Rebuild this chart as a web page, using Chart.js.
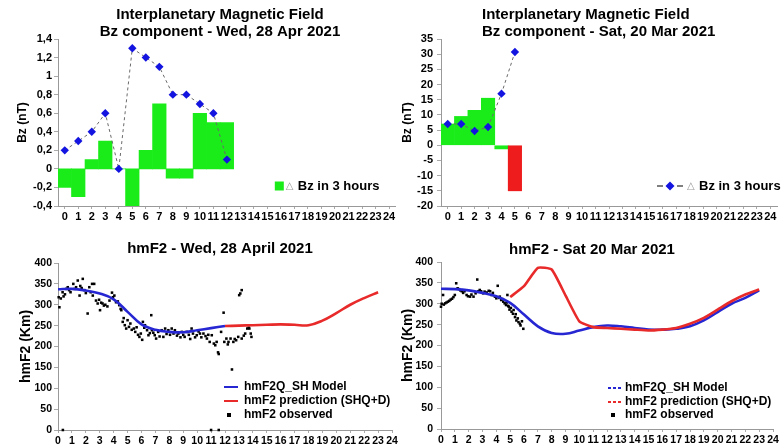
<!DOCTYPE html>
<html>
<head>
<meta charset="utf-8">
<script src="https://cdn.jsdelivr.net/npm/chart.js@4.4.1/dist/chart.umd.min.js"></script>
<style>
  body { margin: 0; background: #fff; }
  #wrap { position: relative; width: 782px; height: 448px; overflow: hidden; }
  .panel { position: absolute; }
</style>
</head>
<body>
<div id="wrap">
  <div class="panel" style="left:0px;top:0px"><canvas id="aprImf" width="400" height="224"></canvas></div>
  <div class="panel" style="left:390px;top:0px"><canvas id="marImf" width="392" height="224"></canvas></div>
  <div class="panel" style="left:0px;top:224px"><canvas id="aprHmf" width="400" height="224"></canvas></div>
  <div class="panel" style="left:390px;top:224px"><canvas id="marHmf" width="392" height="224"></canvas></div>
</div>
<script>
// hour labels for the IMF panels
const hourLabels = ['0', '1', '2', '3', '4', '5', '6', '7', '8', '9', '10', '11', '12',
  '13', '14', '15', '16', '17', '18', '19', '20', '21', '22', '23', '24'];

// 28 Apr 2021 - Bz and its change in 3 hours (nT)
const aprBz = [0.2, 0.3, 0.4, 0.6, 0, 1.3, 1.2, 1.1, 0.8, 0.8, 0.7, 0.6, 0.1];
const aprChange = [-0.2, -0.3, 0.1, 0.3, 0, -0.4, 0.2, 0.7, -0.1, -0.1, 0.6, 0.5, 0.5];

// 20 Mar 2021 - Bz and its change in 3 hours (nT)
const marBz = [7, 7, 4.7, 6, 17, 30.7];
const marChange = [7, 9.5, 11.5, 15.5, -1.2, -15];

// hmF2 28 Apr 2021 (km)
const aprModelHours = [0, 1, 2, 3, 4, 5, 6, 7, 8, 9, 10, 11, 12];
const aprModel = [337, 338, 334, 327, 313, 283, 253, 240, 235, 234, 239, 244, 249];
const aprPredHours = [12, 13, 14, 15, 16, 17, 18, 19, 20, 21, 22, 23];
const aprPred = [249, 250, 251, 252, 253, 252, 251, 262, 280, 300, 316, 330];
const aprObserved = [
  [0.05, 318], [0.1, 294], [0.2, 315], [0.33, 330], [0.4, 320], [0.5, 325], [0.6, 338], [0.7, 342],
  [0.8, 335], [0.9, 330], [1.1, 350], [1.2, 338], [1.3, 342], [1.42, 358], [1.55, 322], [1.6, 345],
  [1.7, 340], [1.78, 362], [1.9, 335], [2.0, 328], [2.13, 279], [2.25, 342], [2.35, 330], [2.45, 350],
  [2.5, 322], [2.6, 350], [2.73, 310], [2.85, 303], [2.95, 312], [3.02, 287], [3.1, 305], [3.2, 303],
  [3.3, 298], [3.4, 300], [3.55, 296], [3.7, 310], [3.88, 329], [3.95, 318], [4.05, 322], [4.17, 306],
  [4.3, 308], [4.4, 299], [4.5, 290], [4.55, 287], [4.65, 259], [4.72, 268], [4.8, 251], [4.9, 243],
  [5.0, 263], [5.1, 247], [5.2, 255], [5.3, 240], [5.45, 243], [5.55, 235], [5.65, 246], [5.75, 228],
  [5.85, 223], [5.95, 231], [6.05, 216], [6.1, 259], [6.2, 245], [6.25, 251], [6.4, 239], [6.5, 227],
  [6.6, 232], [6.7, 275], [6.75, 239], [6.85, 233], [6.95, 227], [7.05, 219], [7.2, 235], [7.3, 224],
  [7.45, 239], [7.57, 223], [7.7, 243], [7.8, 230], [7.93, 239], [8.05, 228], [8.17, 243], [8.3, 231],
  [8.4, 239], [8.55, 226], [8.65, 231], [8.8, 222], [8.9, 235], [9.0, 228], [9.1, 223], [9.25, 235],
  [9.4, 228], [9.5, 218], [9.6, 243], [9.7, 231], [9.85, 222], [9.97, 227], [10.1, 236], [10.2, 231],
  [10.3, 222], [10.45, 231], [10.6, 225], [10.7, 219], [10.8, 228], [10.9, 211], [11.05, 227], [11.2, 207],
  [11.3, 203], [11.4, 211], [11.5, 186], [11.55, 182], [11.72, 235], [11.9, 281], [11.95, 211], [12.1, 219],
  [12.2, 205], [12.25, 211], [12.4, 219], [12.5, 145], [12.6, 211], [12.7, 218], [12.8, 215], [12.95, 223],
  [13.02, 323], [13.1, 327], [13.2, 335], [13.2, 219], [13.35, 226], [13.45, 231], [13.6, 243], [13.7, 245],
  [13.75, 243], [13.85, 231], [13.9, 223], [0.35, 0], [11.0, 0], [11.55, 0]
];

// hmF2 20 Mar 2021 (km)
const marModelHours = [0, 1, 2, 3, 4, 5, 6, 7, 8, 9, 10, 11, 12, 13, 14, 15, 16, 17, 18, 19, 20, 21, 22, 23];
const marModel = [336, 335, 332, 326, 318, 302, 274, 246, 230, 228, 236, 244, 248, 246, 242, 238, 238, 240,
  246, 260, 280, 300, 314, 332];
const marPredHours = [5, 6, 7, 8, 9, 10, 11, 12, 13, 14, 15, 16, 17, 18, 19, 20, 21, 22, 23];
const marPred = [316, 342, 386, 382, 320, 258, 244, 242, 240, 238, 236, 238, 242, 252, 266, 286, 306, 322, 334];
const marObserved = [
  [0.0, 293], [0.05, 300], [0.15, 321], [0.2, 298], [0.3, 301], [0.4, 303], [0.5, 305], [0.6, 307],
  [0.7, 310], [0.8, 312], [0.9, 316], [1.0, 321], [1.1, 349], [1.2, 337], [1.3, 335], [1.4, 332],
  [1.5, 330], [1.6, 326], [1.7, 330], [1.85, 321], [1.95, 318], [2.1, 317], [2.2, 322], [2.35, 317],
  [2.5, 325], [2.62, 358], [2.7, 330], [2.8, 333], [2.9, 330], [3.05, 325], [3.15, 329], [3.3, 327],
  [3.45, 331], [3.55, 330], [3.65, 321], [3.75, 326], [3.9, 317], [4.0, 313], [4.1, 343], [4.2, 314],
  [4.25, 317], [4.35, 309], [4.45, 311], [4.5, 305], [4.6, 301], [4.7, 297], [4.75, 303], [4.8, 321],
  [4.85, 295], [4.9, 293], [4.95, 286], [5.05, 290], [5.1, 281], [5.2, 276], [5.25, 285], [5.35, 268],
  [5.4, 275], [5.45, 260], [5.55, 265], [5.6, 256], [5.7, 252], [5.75, 248], [5.85, 258], [5.95, 240]
];

const FONT = '"Liberation Sans", Arial, Helvetica, sans-serif';
const GREEN = '#1aec1a';
const RED = '#ee1c1c';
const DIAMOND = '#1414e0';
const MODEL_BLUE = '#2626d2';
const PRED_RED = '#e82a2a';

Chart.defaults.font.family = FONT;
Chart.defaults.font.weight = 'bold';
Chart.defaults.font.size = 11;
Chart.defaults.color = '#000';

const fmtComma = v => String(Math.round(v * 10) / 10).replace('.', ',');
const pairs = (xs, ys) => xs.map((x, i) => ({x: x, y: ys[i]}));

// title lines at a fixed x (the source images are not centred on the plot)
function panelTitle(lines, x, ys, align) {
  return {
    id: 'panelTitle',
    afterDraw(chart) {
      const ctx = chart.ctx;
      ctx.save();
      ctx.font = 'bold 15px ' + FONT;
      ctx.fillStyle = '#000';
      ctx.textAlign = align || 'center';
      ctx.textBaseline = 'middle';
      lines.forEach((t, i) => ctx.fillText(t, x, ys[i]));
      ctx.restore();
    }
  };
}

// small legend drawn inside the plot area, positions relative to its bottom right corner
function panelLegend(items) {
  return {
    id: 'panelLegend',
    afterDraw(chart) {
      const ctx = chart.ctx;
      const area = chart.chartArea;
      ctx.save();
      ctx.textBaseline = 'middle';
      items.forEach(it => {
        const x = area.right + it.dx;
        const y = area.bottom + it.dy;
        let tx = x + (it.gap || 20);
        if (it.kind === 'box') {
          ctx.fillStyle = it.color;
          ctx.fillRect(x, y - 4.5, 9, 9);
          tx = x + 11;
        } else if (it.kind === 'diamond') {
          ctx.strokeStyle = '#555';
          ctx.lineWidth = 1.5;
          ctx.beginPath();
          ctx.moveTo(x, y); ctx.lineTo(x + 6, y);
          ctx.moveTo(x + 20, y); ctx.lineTo(x + 26, y);
          ctx.stroke();
          ctx.fillStyle = it.color;
          ctx.beginPath();
          ctx.moveTo(x + 13, y - 4.5); ctx.lineTo(x + 17.5, y);
          ctx.lineTo(x + 13, y + 4.5); ctx.lineTo(x + 8.5, y);
          ctx.closePath();
          ctx.fill();
          tx = x + 30;
        } else if (it.kind === 'line') {
          ctx.strokeStyle = it.color;
          ctx.lineWidth = 2;
          ctx.setLineDash(it.dash || []);
          ctx.beginPath();
          ctx.moveTo(x, y); ctx.lineTo(x + 14, y);
          ctx.stroke();
          ctx.setLineDash([]);
        } else if (it.kind === 'dot') {
          ctx.fillStyle = '#000';
          ctx.fillRect(x + 3, y - 2, 4, 4);
        }
        if (it.delta) {
          ctx.font = '10px "DejaVu Sans", sans-serif';
          ctx.fillStyle = '#9a9a9a';
          ctx.fillText('\u25B3', tx, y);
          tx += 12;
        }
        ctx.font = 'bold ' + (it.size || 12) + 'px ' + FONT;
        ctx.fillStyle = '#000';
        ctx.fillText(it.text, tx, y);
      });
      ctx.restore();
    }
  };
}

function imfChart(id, o) {
  return new Chart(document.getElementById(id), {
    type: 'bar',
    data: {
      labels: hourLabels,
      datasets: [
        {
          type: 'line', order: 0, data: o.bz,
          borderColor: '#6a6a6a', borderWidth: 1, borderDash: [3, 3], fill: false,
          pointStyle: 'rectRot', pointRadius: 4.2, pointBackgroundColor: DIAMOND, pointBorderWidth: 0
        },
        {
          order: 1, data: o.change,
          backgroundColor: c => (c.raw <= -10 ? RED : GREEN),
          barPercentage: 1, categoryPercentage: 1, borderWidth: 0
        }
      ]
    },
    options: {
      responsive: false,
      animation: false,
      layout: {padding: o.pad},
      plugins: {
        legend: {display: false},
        tooltip: {enabled: false}
      },
      scales: {
        x: {
          offset: true,
          afterFit: s => { s.height = 18; },
          ticks: {autoSkip: false, maxRotation: 0, padding: 1},
          grid: {offset: false, drawOnChartArea: false, tickLength: 3, color: '#aaa'},
          border: {color: '#999'}
        },
        y: {
          min: o.min, max: o.max,
          afterFit: s => { s.width = o.yw; },
          ticks: {stepSize: o.step, maxTicksLimit: 20, autoSkip: false, padding: o.ytp, callback: o.fmt},
          grid: {drawOnChartArea: false, tickLength: 4, color: '#aaa'},
          border: {color: '#999'},
          title: {display: true, text: 'Bz (nT)', font: {size: 12, weight: 'bold'}, padding: {top: o.ytitle, bottom: 0}}
        }
      }
    },
    plugins: [panelTitle(o.title, o.titleX, [15, 32], o.titleAlign), panelLegend(o.legend)]
  });
}

function hmfChart(id, o) {
  return new Chart(document.getElementById(id), {
    type: 'line',
    data: {
      datasets: [
        {
          label: 'hmF2Q_SH Model', order: 1, data: pairs(o.modelHours, o.model),
          borderColor: MODEL_BLUE, borderWidth: 2.6, pointRadius: 0, tension: 0.4
        },
        {
          label: 'hmF2 prediction (SHQ+D)', order: 0, data: pairs(o.predHours, o.pred),
          borderColor: PRED_RED, borderWidth: 2.6, pointRadius: 0, tension: o.predTension
        },
        {
          label: 'hmF2 observed', order: 2, data: o.observed, showLine: false, clip: false,
          pointStyle: 'rect', pointRadius: 1.8, pointBackgroundColor: '#000', pointBorderWidth: 0
        }
      ]
    },
    options: {
      responsive: false,
      animation: false,
      layout: {padding: o.pad},
      plugins: {
        legend: {display: false},
        tooltip: {enabled: false}
      },
      scales: {
        x: {
          type: 'linear', min: 0, max: 24,
          afterFit: s => { s.height = o.xh; },
          ticks: {stepSize: 1, maxTicksLimit: 30, autoSkip: false, maxRotation: 0, padding: 2, font: {size: 10.5}},
          grid: {drawOnChartArea: false, tickLength: 3, color: '#aaa'},
          border: {color: '#999'}
        },
        y: {
          min: 0, max: 400,
          afterFit: s => { s.width = o.yw; },
          ticks: {stepSize: 50, maxTicksLimit: 20, autoSkip: false, padding: o.ytp, font: {size: 10.5}},
          grid: {drawOnChartArea: false, tickLength: 4, color: '#aaa'},
          border: {color: '#999'},
          title: {display: true, text: 'hmF2 (Km)', font: {size: 14, weight: 'bold'}, padding: {top: o.ytitle, bottom: 0}}
        }
      }
    },
    plugins: [panelTitle([o.title], o.titleX, [o.titleY]), panelLegend(o.legend)]
  });
}

imfChart('aprImf', {
  title: ['Interplanetary Magnetic Field', 'Bz component - Wed, 28 Apr 2021'], titleX: 220,
  bz: aprBz, change: aprChange,
  min: -0.4, max: 1.4, step: 0.2, fmt: fmtComma,
  pad: {left: 0, right: 0, top: 39, bottom: 0},
  yw: 58, ytp: 2, ytitle: 15.8,
  legend: [{kind: 'box', color: GREEN, dx: -121, dy: -20, delta: true, text: 'Bz in 3 hours', size: 13}]
});

imfChart('marImf', {
  title: ['Interplanetary Magnetic Field', 'Bz component - Sat, 20 Mar 2021'], titleX: 92, titleAlign: 'left',
  bz: marBz, change: marChange,
  min: -20, max: 35, step: 5, fmt: v => String(v),
  pad: {left: 0, right: 5, top: 39, bottom: 0},
  yw: 51, ytp: 4, ytitle: 10.8,
  legend: [{kind: 'diamond', color: DIAMOND, dx: -120, dy: -20, delta: true, text: 'Bz in 3 hours', size: 13}]
});

hmfChart('aprHmf', {
  title: 'hmF2 - Wed, 28 April 2021', titleX: 220, titleY: 25,
  modelHours: aprModelHours, model: aprModel,
  predHours: aprPredHours, pred: aprPred, predTension: 0.4,
  observed: aprObserved,
  pad: {left: 0, right: 8, top: 39, bottom: 0},
  xh: 18, yw: 58, ytp: 2, ytitle: 17.6,
  legend: [
    {kind: 'line', color: MODEL_BLUE, dx: -168, dy: -43, gap: 20, text: 'hmF2Q_SH Model'},
    {kind: 'line', color: PRED_RED, dx: -168, dy: -29, gap: 20, text: 'hmF2 prediction (SHQ+D)'},
    {kind: 'dot', dx: -168, dy: -15, gap: 20, text: 'hmF2 observed'}
  ]
});

hmfChart('marHmf', {
  title: 'hmF2 - Sat 20 Mar 2021', titleX: 202, titleY: 25.7,
  modelHours: marModelHours, model: marModel,
  predHours: marPredHours, pred: marPred, predTension: 0.15,
  observed: marObserved,
  pad: {left: 0, right: 9, top: 38, bottom: 0},
  xh: 19, yw: 51, ytp: 4, ytitle: 9.6,
  legend: [
    {kind: 'line', color: MODEL_BLUE, dash: [3, 2], dx: -165, dy: -41, gap: 17, text: 'hmF2Q_SH Model'},
    {kind: 'line', color: PRED_RED, dash: [3, 2], dx: -165, dy: -27, gap: 17, text: 'hmF2 prediction (SHQ+D)'},
    {kind: 'dot', dx: -165, dy: -14, gap: 17, text: 'hmF2 observed'}
  ]
});
</script>
</body>
</html>
